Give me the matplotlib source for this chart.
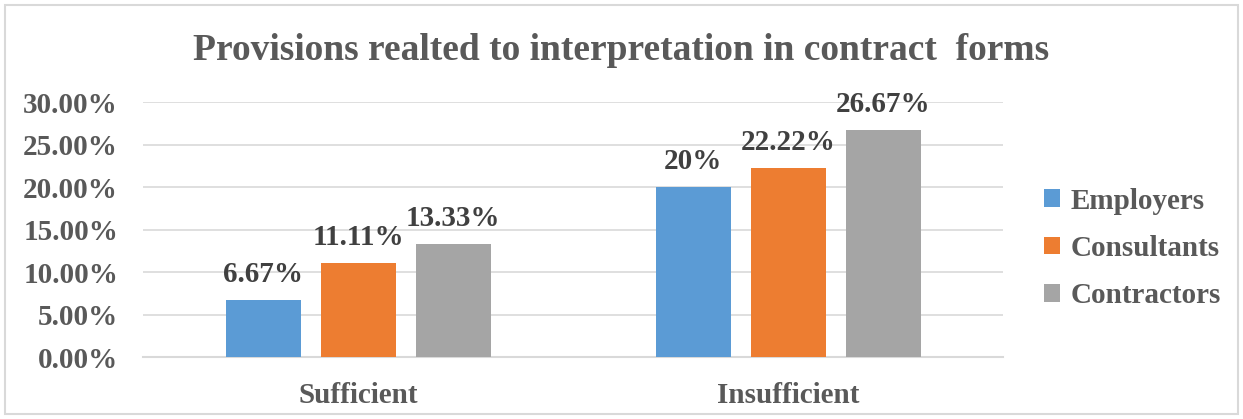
import matplotlib
matplotlib.use("Agg")
import matplotlib.pyplot as plt
from matplotlib.patches import Rectangle
from matplotlib.ticker import FuncFormatter
import numpy as np

categories = ["Sufficient", "Insufficient"]
series_names = ["Employers", "Consultants", "Contractors"]
employers = [6.67, 20.0]
consultants = [11.11, 22.22]
contractors = [13.33, 26.67]
label_texts = [["6.67%", "20%"], ["11.11%", "22.22%"], ["13.33%", "26.67%"]]
colors = ["#5B9BD5", "#ED7D31", "#A5A5A5"]
y_ticks = [0, 5, 10, 15, 20, 25, 30]

plt.rcParams['font.family'] = ['Liberation Serif', 'DejaVu Serif']
txt = "#595959"

fig = plt.figure(figsize=(12.43, 4.19), dpi=100)
fig.patches.append(Rectangle((5/1243, 5/419), 1233/1243, 409/419, transform=fig.transFigure,
                             fill=False, edgecolor="#D9D9D9", linewidth=1.5))
ax = fig.add_axes([143/1243, 1-357/419, 860/1243, 255/419])

x = np.arange(len(categories))
width = 75/430
step = 95/430
data = [employers, consultants, contractors]
for i, (vals, name, col) in enumerate(zip(data, series_names, colors)):
    pos = x + (i-1)*step
    bars = ax.bar(pos, vals, width, color=col, label=name, zorder=3)
    for b, t in zip(bars, label_texts[i]):
        ax.annotate(t, (b.get_x()+b.get_width()/2, b.get_height()), xytext=(0, 13),
                    textcoords="offset points", ha="center", va="baseline",
                    fontsize=21, fontweight="bold", color="#404040")

ax.set_xlim(-0.5, 1.5)
ax.set_ylim(0, 30)
ax.set_yticks(y_ticks)
ax.yaxis.set_major_formatter(FuncFormatter(lambda v, p: f"{v:.2f}%"))
ax.set_xticks(x)
ax.set_xticklabels(categories)
ax.grid(axis="y", color="#D9D9D9", linewidth=1.2, zorder=0)
for s in ["top", "right", "left"]:
    ax.spines[s].set_visible(False)
ax.spines["bottom"].set_color("#D9D9D9")
ax.spines["bottom"].set_linewidth(1.5)
ax.tick_params(axis="both", length=0, colors=txt)
ax.tick_params(axis="y", pad=18)
ax.tick_params(axis="x", pad=18)
for lab in ax.get_yticklabels():
    lab.set_fontsize(21)
    lab.set_fontweight("bold")
    lab.set_color(txt)
for lab in ax.get_xticklabels():
    lab.set_fontsize(21)
    lab.set_fontweight("bold")
    lab.set_color(txt)

fig.text(0.5, 1-50/419, "Provisions realted to interpretation in contract  forms", ha="center", va="center",
         fontsize=27, fontweight="bold", color=txt)

leg = ax.legend(loc="center left", bbox_to_anchor=((1044-143)/860, 0.5 - 19/255), frameon=False,
                prop={"size": 21, "weight": "bold"}, handlelength=0.55, handleheight=0.55,
                handletextpad=0.35, labelspacing=0.7, borderaxespad=0, borderpad=0)
for t in leg.get_texts():
    t.set_color(txt)

fig.savefig("out.png", dpi=100)
